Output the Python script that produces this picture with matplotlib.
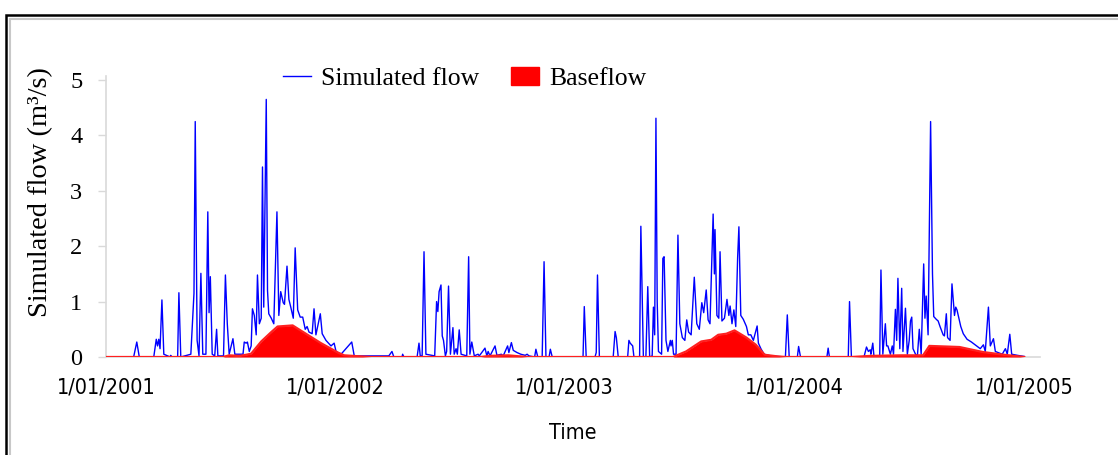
import pandas as pd
import matplotlib
matplotlib.use('Agg')
import matplotlib.pyplot as plt
from matplotlib.lines import Line2D
from matplotlib.patches import Patch, Rectangle

# daily simulated flow (m3/s), vertices read off the hydrograph
# day = days since 1/01/2001
flow_days = [0, 44, 49, 53, 76, 80, 82, 84, 86, 89, 92, 102, 103, 105, 114, 116, 119,
             135, 140, 142, 145, 148, 151, 154, 159, 162, 164, 166, 169, 173, 176, 178,
             187, 190, 193, 196, 202, 205, 218, 220, 223, 225, 228, 231, 233, 236, 239,
             241, 244, 247, 249, 251, 255, 257, 259, 263, 267, 272, 275, 278, 282, 284,
             288, 291, 294, 298, 301, 305, 309, 313, 317, 320, 323, 328, 331, 334, 341,
             344, 350, 358, 363, 366, 374, 391, 395, 450, 455, 458, 471, 472, 474,
             # 2002
             495, 498, 500, 503, 506, 509, 523, 526, 528, 530, 533, 535, 537, 540, 542,
             545, 548, 552, 554, 557, 559, 562, 565, 574, 577, 579, 582, 586, 592, 594,
             603, 606, 608, 611, 619, 622, 629, 632, 637, 639, 641, 645, 648, 654, 660,
             667, 670, 673, 682, 684, 687, 694, 697, 700, 705, 707, 710, 759, 761, 764,
             778, 780, 782, 785,
             # 2003
             807, 810, 812, 815, 830, 832, 834, 838, 840, 849, 851, 855, 859, 862, 865,
             869, 871, 873, 875, 877, 879, 884, 886, 888, 891, 894, 898, 899, 901, 903,
             907, 910, 913, 917, 921, 924, 927, 931, 936, 940, 944, 948, 951, 955, 958,
             961, 966, 968, 969, 972, 975, 977, 980, 984, 988, 991, 993, 996, 999, 1002,
             1005, 1007, 1010, 1014, 1019, 1022, 1026, 1030, 1036, 1038, 1042, 1047, 1058,
             1081, 1084, 1087, 1100, 1102, 1105, 1147, 1149, 1151, 1181, 1183, 1186,
             # 2004
             1206, 1210, 1213, 1216, 1217, 1220, 1222, 1231, 1233, 1236, 1240, 1242, 1244,
             1248, 1251, 1253, 1256, 1258, 1260, 1263, 1266, 1268, 1272, 1275, 1278, 1280,
             1282, 1284, 1288, 1291, 1294, 1297, 1301, 1303, 1305, 1308, 1312, 1315, 1317,
             1321, 1324, 1327, 1332, 1334, 1337, 1339, 1343, 1346, 1350, 1352, 1354, 1360,
             1364, 1370, 1377, 1385, 1391, 1396, 1399, 1404, 1407, 1412, 1415, 1426, 1431,
             1434, 1438, 1441, 1450, 1461]
flow_vals = [0, 0, 0.27, 0, 0, 0.32, 0.2, 0.32, 0.15, 1.03, 0.05, 0, 0.03, 0, 0, 1.16, 0,
             0.05, 1.15, 4.25, 0.3, 0.02, 1.51, 0.05, 0.05, 2.62, 0.8, 1.45, 0.05, 0.02, 0.5, 0.02,
             0.02, 1.48, 0.6, 0.05, 0.33, 0.05, 0.05, 0.27, 0.25, 0.27, 0.1, 0.2, 0.87, 0.75, 0.4,
             1.48, 0.6, 0.7, 3.43, 0.9, 4.65, 1.2, 0.78, 0.7, 0.6, 2.62, 0.75, 1.18, 0.98, 0.95,
             1.64, 1.04, 0.9, 0.7, 1.97, 0.85, 0.72, 0.72, 0.5, 0.55, 0.45, 0.42, 0.87, 0.4, 0.78,
             0.42, 0.3, 0.2, 0.25, 0.1, 0.05, 0.27, 0.02, 0.02, 0.1, 0, 0, 0.05, 0,
             # 2002
             0, 0.25, 0.02, 0.02, 1.9, 0.05, 0.02, 1.0, 0.82, 1.18, 1.3, 0.38, 0.3, 0.02, 0.1,
             1.28, 0.05, 0.53, 0.05, 0.15, 0.05, 0.49, 0.05, 0.02, 1.81, 0.05, 0.27, 0.02, 0.05, 0.02,
             0.16, 0.02, 0.1, 0.02, 0.2, 0.03, 0.05, 0.02, 0.15, 0.2, 0.08, 0.26, 0.12, 0.08, 0.05,
             0.03, 0.05, 0.02, 0, 0.14, 0, 0, 1.72, 0, 0, 0.14, 0, 0, 0.91, 0,
             0, 0.08, 1.48, 0,
             # 2003
             0, 0.46, 0.35, 0, 0, 0.3, 0.25, 0.2, 0, 0, 2.36, 0, 0, 1.27, 0,
             0.02, 0.9, 0.4, 4.31, 1.0, 0.1, 0.05, 1.78, 1.81, 0.3, 0.1, 0.3, 0.2, 0.3, 0.05,
             0.05, 2.2, 0.6, 0.35, 0.3, 0.67, 0.45, 0.4, 1.44, 0.6, 0.5, 0.98, 0.8, 1.21, 0.67,
             0.6, 2.58, 1.5, 2.3, 0.75, 0.7, 1.9, 0.65, 0.7, 1.04, 0.75, 0.92, 0.6, 0.85, 0.55,
             1.8, 2.35, 0.75, 0.68, 0.55, 0.4, 0.4, 0.3, 0.56, 0.25, 0.15, 0.05, 0.02,
             0, 0.76, 0, 0, 0.19, 0, 0, 0.16, 0, 0, 1.0, 0,
             # 2004
             0, 0.18, 0.1, 0.13, 0.05, 0.25, 0, 0, 1.57, 0.05, 0.6, 0.2, 0.2,
             0.05, 0.2, 0.05, 0.86, 0.3, 1.42, 0.15, 1.24, 0.1, 0.88, 0.05, 0.3, 0.65,
             0.72, 0.15, 0.05, 0.02, 0.5, 0.05, 1.68, 0.7, 1.1, 0.4, 4.25, 1.5, 0.73,
             0.68, 0.65, 0.55, 0.4, 0.38, 0.78, 0.35, 0.3, 1.32, 0.75, 0.9, 0.85, 0.55,
             0.42, 0.32, 0.27, 0.2, 0.15, 0.22, 0.1, 0.9, 0.2, 0.33, 0.1, 0.05, 0.15,
             0.05, 0.41, 0.05, 0.03, 0.01]

# baseflow (m3/s)
base_days = [0, 186, 196, 212, 223, 231, 247, 263, 273, 297, 318, 342, 358, 369, 379, 406, 422,
             596, 610, 640, 660, 670,
             902, 923, 947, 963, 974, 987, 1000, 1019, 1034, 1048, 1069, 1082,
             1186, 1217, 1265, 1300, 1303, 1310, 1358, 1395, 1429, 1461]
base_vals = [0, 0, 0.03, 0.02, 0.04, 0.06, 0.28, 0.45, 0.55, 0.57, 0.42, 0.25, 0.15, 0.08, 0.03, 0.01, 0,
             0, 0.02, 0.03, 0.01, 0,
             0, 0.1, 0.28, 0.31, 0.4, 0.42, 0.48, 0.35, 0.22, 0.04, 0.01, 0,
             0, 0.02, 0.03, 0.03, 0.08, 0.2, 0.18, 0.09, 0.04, 0]

tick_years = [2001, 2002, 2003, 2004, 2005]
tick_labels = ['1/01/2001', '1/01/2002', '1/01/2003', '1/01/2004', '1/01/2005']

start = pd.Timestamp('2001-01-01')
flow_t = start + pd.to_timedelta(flow_days, unit='D')
base_t = start + pd.to_timedelta(base_days, unit='D')

serif = ['Liberation Serif', 'DejaVu Serif']
narrow = dict(family='DejaVu Sans', stretch='condensed', fontsize=15.5)

fig = plt.figure(figsize=(11.18, 4.55), dpi=100)
ax = fig.add_axes([0.0948, 0.2154, 0.8354, 0.6185])

ax.plot(flow_t, flow_vals, color='#0000ff', lw=1.0, zorder=2)
ax.fill_between(base_t, 0, base_vals, color='#ff0000', lw=0, zorder=3)
ax.plot(base_t, base_vals, color='#ff2020', lw=1.6, zorder=3)

ax.set_xlim(start, start + pd.Timedelta(days=1486))
ax.set_ylim(0, 5.08)
ax.set_yticks([0, 1, 2, 3, 4, 5])
ax.set_yticklabels(['0', '1', '2', '3', '4', '5'], family=serif, fontsize=17.5)
ax.set_xticks([pd.Timestamp(f'{y}-01-01') for y in tick_years])
ax.set_xticklabels(tick_labels, **narrow)
ax.tick_params(axis='x', length=0, pad=15)
ax.tick_params(axis='y', length=6, width=1, color='#d9d9d9', pad=11)

for s in ['top', 'right']:
    ax.spines[s].set_visible(False)
for s in ['left', 'bottom']:
    ax.spines[s].set_color('#d9d9d9')
    ax.spines[s].set_linewidth(1.2)

ax.set_ylabel('Simulated flow (m³/s)', family=serif, fontsize=20.5)
ax.yaxis.set_label_coords(-0.057, 0.585)
ax.set_xlabel('Time', labelpad=18, **narrow)

handles = [Line2D([], [], color='#0000ff', lw=1.0), Patch(color='#ff0000')]
ax.legend(handles, ['Simulated flow', 'Baseflow'], ncol=2, frameon=False,
          loc='center', bbox_to_anchor=(0.384, 0.99), prop={'family': serif, 'size': 18.5},
          handlelength=1.1, handletextpad=0.4, columnspacing=1.2, borderaxespad=0)

# outer picture frame
fig.add_artist(Rectangle((0.005, -0.5), 2, 0.5 + 0.967, transform=fig.transFigure,
                         fill=False, ec='black', lw=1.8))
fig.add_artist(Rectangle((0.0085, -0.5), 2, 0.5 + 0.958, transform=fig.transFigure,
                         fill=False, ec='#c8c8c8', lw=1.5))

fig.savefig('out.png', dpi=100)
